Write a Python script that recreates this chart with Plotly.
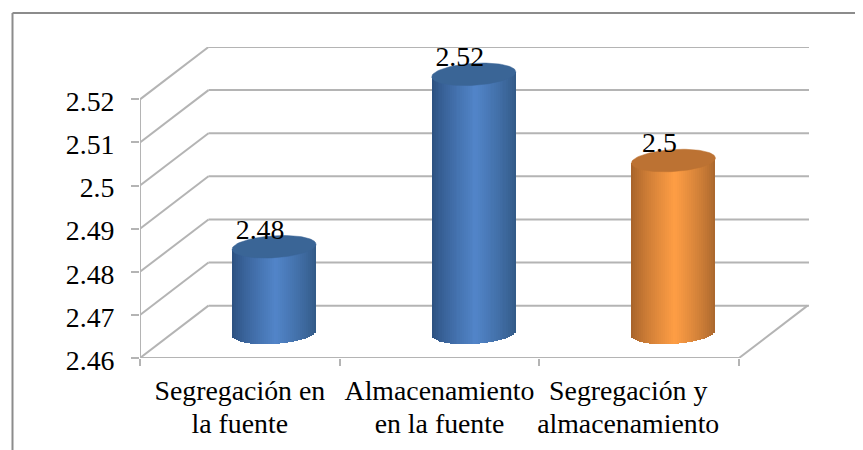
import plotly.graph_objects as go
import numpy as np

# ---- data ----
categories_line1 = ["Segregación en", "Almacenamiento", "Segregación y"]
categories_line2 = ["la fuente", "en la fuente", "almacenamiento"]
values = [2.48, 2.52, 2.5]
value_labels = ["2.48", "2.52", "2.5"]
y_ticks = [2.46, 2.47, 2.48, 2.49, 2.5, 2.51, 2.52]
y_tick_labels = ["2.46", "2.47", "2.48", "2.49", "2.5", "2.51", "2.52"]
x_label_positions = [0, 1, 1.945]

# ---- style ----
edge_colors = [("#2C507F", "#5285C9", "#325985"), ("#2C507F", "#5285C9", "#325985"), ("#A5622A", "#FF9E45", "#A8662D")]
cap_colors = ["#3A6596", "#3A6596", "#BC7233"]
GRID = "#B4B4B4"
FONT = "Liberation Serif"
FS = 27.8

# the page adds an 8 px body margin on the top and left
W, H = 855, 442
L, R, T, B = 132, 54, 39, 92
X_PX = 199.67          # px per category
Y_PX = 4307.0          # px per unit of value
depth_x = 68.5 / X_PX  # depth of the fake 3D box
depth_y = 52.3 / Y_PX
x_lo, x_hi = -0.5, -0.5 + (W - L - R) / X_PX
y_lo, y_hi = y_ticks[0], y_ticks[-1] + depth_y
half_w = 42 / X_PX
cap_h = 11 / Y_PX
tilt = 2.5 / Y_PX
lift = 25 / Y_PX
n_slices = 42


def hex2rgb(c):
    return np.array([int(c[i:i + 2], 16) for i in (1, 3, 5)], float)


def shade(t, trio):
    a, m, b = [hex2rgb(c) for c in trio]
    tt = (t + 1) / 2
    peak = 0.52
    if tt < peak:
        s = (tt / peak) ** 0.8
        rgb = a + (m - a) * s
    else:
        s = ((1 - tt) / (1 - peak)) ** 0.8
        rgb = b + (m - b) * s
    return "rgb(%d,%d,%d)" % tuple(rgb)


fig = go.Figure()

# cylinders: one Bar trace per category, sliced for the shading
for i, (v, trio) in enumerate(zip(values, edge_colors)):
    cx = i + depth_x / 2
    ts = (np.arange(n_slices) + 0.5) / n_slices * 2 - 1
    xs = cx + ts * half_w
    bases = y_ticks[0] + lift + tilt * ts - cap_h * np.sqrt(1 - ts ** 2)
    tops = v + lift + tilt * ts
    fig.add_trace(go.Bar(
        x=xs, y=tops - bases, base=bases,
        width=2 * half_w / n_slices,
        marker=dict(color=[shade(t, trio) for t in ts], line=dict(width=0)),
        showlegend=False, hoverinfo="skip",
    ))

# cylinder caps
theta = np.linspace(0, 2 * np.pi, 90)
for i, (v, c) in enumerate(zip(values, cap_colors)):
    fig.add_trace(go.Scatter(
        x=i + depth_x / 2 + half_w * np.cos(theta),
        y=v + lift + cap_h * np.sin(theta) + tilt * np.cos(theta),
        mode="lines", fill="toself", fillcolor=c,
        line=dict(color=c, width=0.5), showlegend=False, hoverinfo="skip",
    ))

# data labels
fig.add_trace(go.Scatter(
    x=[i + depth_x / 2 - 14 / X_PX for i in range(len(values))],
    y=[v + 40 / Y_PX for v in values],
    mode="text", text=value_labels, textposition="middle center",
    textfont=dict(family=FONT, size=FS, color="#000000"),
    showlegend=False, hoverinfo="skip", cliponaxis=False,
))

# invisible trace so that the second x axis (second label line) is drawn
fig.add_trace(go.Scatter(
    x=x_label_positions, y=[y_ticks[0]] * 3, xaxis="x2", mode="markers",
    marker=dict(opacity=0, size=1), showlegend=False, hoverinfo="skip",
))

# fake-3D walls, drawn behind the bars
shapes = []
line = dict(color=GRID, width=2)
for t in y_ticks:
    shapes.append(dict(type="line", xref="x", yref="y", layer="below", x0=x_lo, y0=t,
                       x1=x_lo + depth_x, y1=t + depth_y, line=line))
    shapes.append(dict(type="line", xref="x", yref="y", layer="below", x0=x_lo + depth_x, y0=t + depth_y,
                       x1=x_hi, y1=t + depth_y, line=line))
shapes.append(dict(type="line", xref="x", yref="y", layer="below", x0=x_lo, y0=y_ticks[0],
                   x1=x_lo, y1=y_ticks[-1], line=line))
shapes.append(dict(type="line", xref="x", yref="y", layer="below", x0=x_lo, y0=y_ticks[0],
                   x1=2.5, y1=y_ticks[0], line=line))
shapes.append(dict(type="line", xref="x", yref="y", layer="below", x0=2.5, y0=y_ticks[0],
                   x1=2.5 + depth_x, y1=y_ticks[0] + depth_y, line=line))

# outer frame (left and top only are visible in the picture)
pw, ph = W - L - R, H - T - B
fx0 = (4.5 - L) / pw
fy1 = (ph + 34) / ph
fx1 = (W - L) / pw
fy0 = -B / ph
frame = dict(color="#8C8C8C", width=2)
shapes.append(dict(type="line", xref="paper", yref="paper", x0=fx0, y0=fy0, x1=fx0, y1=fy1, line=frame))
shapes.append(dict(type="line", xref="paper", yref="paper", x0=fx0, y0=fy1, x1=fx1, y1=fy1, line=frame))

label_font = dict(family=FONT, size=FS, color="#000000")
fig.update_layout(
    width=W, height=H, autosize=False,
    margin=dict(l=L, r=R, t=T, b=B, pad=0),
    paper_bgcolor="white", plot_bgcolor="white",
    barmode="overlay", bargap=0, showlegend=False, shapes=shapes,
    font=label_font,
    xaxis=dict(
        range=[x_lo, x_hi], showgrid=False, zeroline=False, showline=False,
        tickmode="array", tickvals=x_label_positions, ticktext=categories_line1,
        ticks="", ticklabelstandoff=13, tickfont=label_font,
        minor=dict(tickmode="array", tickvals=[-0.5, 0.5, 1.5, 2.5], ticks="outside",
                   ticklen=7, tickwidth=2, tickcolor=GRID, showgrid=False),
    ),
    xaxis2=dict(
        range=[x_lo, x_hi], overlaying="x", anchor="y", side="bottom",
        showgrid=False, zeroline=False, showline=False,
        tickmode="array", tickvals=x_label_positions, ticktext=categories_line2,
        ticks="", ticklabelstandoff=46, tickfont=label_font,
    ),
    yaxis=dict(
        range=[y_lo, y_hi], showgrid=False, zeroline=False, showline=False,
        tickmode="array", tickvals=y_ticks, ticktext=y_tick_labels,
        ticks="outside", ticklen=8, tickwidth=2, tickcolor=GRID,
        ticklabelstandoff=11, ticklabelshift=2, tickfont=label_font,
    ),
)

fig.write_html("out.html", config=dict(displayModeBar=False))
